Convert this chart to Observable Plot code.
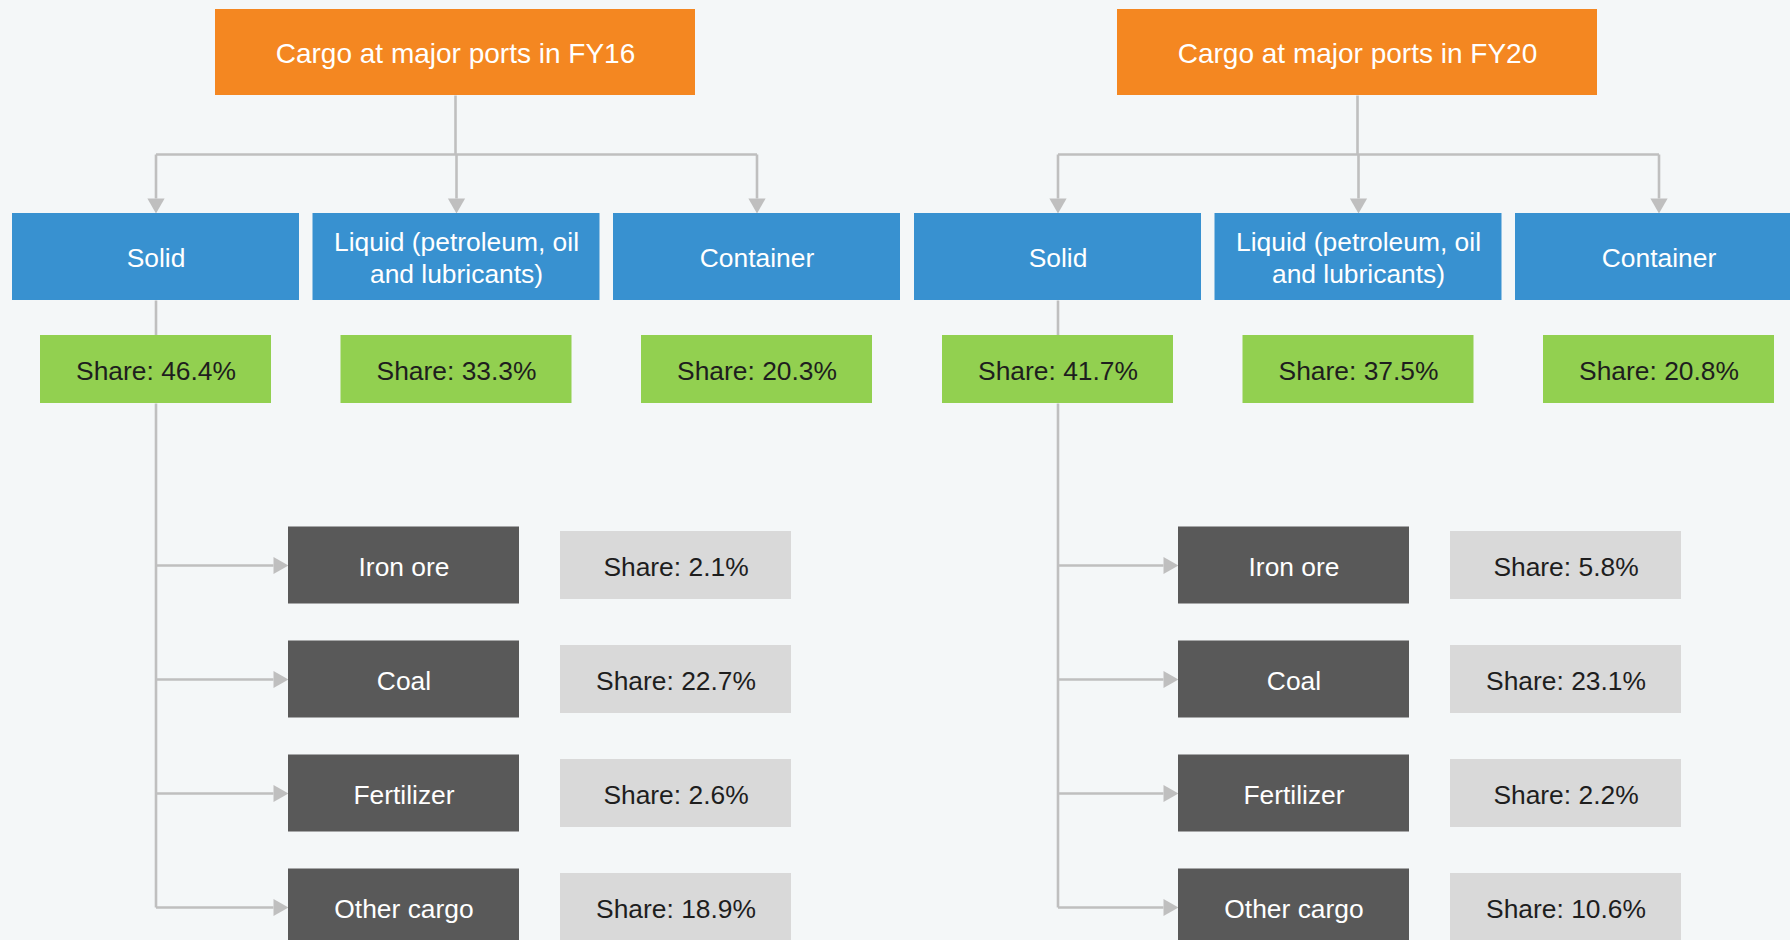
<!DOCTYPE html>
<html>
<head>
<meta charset="utf-8">
<script src="https://cdn.jsdelivr.net/npm/d3@7"></script>
<script src="https://cdn.jsdelivr.net/npm/@observablehq/plot@0.6"></script>
<style>
  html, body { margin: 0; padding: 0; background: #F4F7F8; }
  #chart { width: 1790px; height: 940px; overflow: hidden; }
</style>
</head>
<body>
<div id="chart"></div>
<script>
// ---------- data ----------
const years = ["FY16", "FY20"];
const titles = ["Cargo at major ports in FY16", "Cargo at major ports in FY20"];
const categories = ["Solid", "Liquid (petroleum, oil\nand lubricants)", "Container"];
const categoryShareFY16 = [46.4, 33.3, 20.3];
const categoryShareFY20 = [41.7, 37.5, 20.8];
const solidTypes = ["Iron ore", "Coal", "Fertilizer", "Other cargo"];
const solidShareFY16 = [2.1, 22.7, 2.6, 18.9];
const solidShareFY20 = [5.8, 23.1, 2.2, 10.6];

const categoryShares = [categoryShareFY16, categoryShareFY20];
const solidShares = [solidShareFY16, solidShareFY20];

// ---------- layout (diagram geometry) ----------
const W = 1790, H = 940;
const upperOffset = [0, 902];
const lowerOffset = [0, 890];
const L = {
  titleX1: 215, titleX2: 695, titleY1: 9, titleY2: 95,
  busY: 154,
  catX0: 12, catPitch: 300.5, catW: 287, catY1: 213, catY2: 300,
  shareW: 231, shareY1: 335, shareY2: 403,
  rowY0: 565, rowPitch: 114,
  subX1: 288, subX2: 519, subHalf: 38.5,
  valX1: 560, valX2: 791, valHalf: 34,
  arrowLen: 10, arrowBase: 15
};
const fmt = v => `Share: ${v.toFixed(1)}%`;

const rects = [], texts = [], links = [], heads = [];
years.forEach((yr, p) => {
  const ou = upperOffset[p], ol = lowerOffset[p];
  rects.push({x1: L.titleX1 + ou, x2: L.titleX2 + ou, y1: L.titleY1, y2: L.titleY2, kind: "title"});
  texts.push({x: (L.titleX1 + L.titleX2) / 2 + ou, y: (L.titleY1 + L.titleY2) / 2 + 2, text: titles[p], kind: "title"});
  const centers = categories.map((c, i) => L.catX0 + i * L.catPitch + L.catW / 2 + ou);
  links.push({x1: centers[0], y1: L.busY, x2: centers[2], y2: L.busY});
  const tx = (L.titleX1 + L.titleX2) / 2 + ou;
  links.push({x1: tx, y1: L.titleY2, x2: tx, y2: L.busY});
  categories.forEach((c, i) => {
    const cx = centers[i];
    links.push({x1: cx, y1: L.busY, x2: cx, y2: L.catY1 - L.arrowBase});
    heads.push({x: cx, y: L.catY1 - L.arrowLen, rot: 180});
    rects.push({x1: cx - L.catW / 2, x2: cx + L.catW / 2, y1: L.catY1, y2: L.catY2, kind: "cat"});
    texts.push({x: cx, y: (L.catY1 + L.catY2) / 2, text: c, kind: "cat"});
    rects.push({x1: cx - L.shareW / 2, x2: cx + L.shareW / 2, y1: L.shareY1, y2: L.shareY2, kind: "share"});
    texts.push({x: cx, y: (L.shareY1 + L.shareY2) / 2, text: fmt(categoryShares[p][i]), kind: "share"});
  });
  const sx = centers[0];
  const lastRow = L.rowY0 + (solidTypes.length - 1) * L.rowPitch;
  links.push({x1: sx, y1: L.catY2, x2: sx, y2: L.shareY1});
  links.push({x1: sx, y1: L.shareY2, x2: sx, y2: lastRow});
  solidTypes.forEach((t, j) => {
    const cy = L.rowY0 + j * L.rowPitch;
    links.push({x1: sx, y1: cy, x2: L.subX1 + ol - L.arrowBase, y2: cy});
    heads.push({x: L.subX1 + ol - L.arrowLen, y: cy, rot: 90});
    rects.push({x1: L.subX1 + ol, x2: L.subX2 + ol, y1: cy - L.subHalf, y2: cy + L.subHalf, kind: "sub"});
    texts.push({x: (L.subX1 + L.subX2) / 2 + ol, y: cy, text: t, kind: "sub"});
    rects.push({x1: L.valX1 + ol, x2: L.valX2 + ol, y1: cy - L.valHalf, y2: cy + L.valHalf, kind: "val"});
    texts.push({x: (L.valX1 + L.valX2) / 2 + ol, y: cy, text: fmt(solidShares[p][j]), kind: "val"});
  });
});

const fillOf = {title: "#F48721", cat: "#3891D0", share: "#92D050", sub: "#595959", val: "#D9D9D9"};
const textOf = {title: "#FFFFFF", cat: "#FFFFFF", share: "#1E1E1E", sub: "#FFFFFF", val: "#1E1E1E"};
const lineColor = "#BFBFBF";

const chart = Plot.plot({
  width: W, height: H,
  margin: 0,
  style: {background: "#F4F7F8", fontFamily: "'Liberation Sans', Arial, sans-serif"},
  x: {domain: [0, W], range: [0, W], axis: null},
  y: {domain: [0, H], range: [0, H], axis: null},
  marks: [
    Plot.link(links, {x1: "x1", y1: "y1", x2: "x2", y2: "y2", stroke: lineColor, strokeWidth: 2.6}),
    Plot.dot(heads, {x: "x", y: "y", symbol: "triangle", rotate: "rot", r: 6.4, fill: lineColor, stroke: "none"}),
    Plot.rect(rects, {x1: "x1", x2: "x2", y1: "y1", y2: "y2", fill: d => fillOf[d.kind], inset: 0}),
    Plot.text(texts.filter(d => d.kind === "title"), {x: "x", y: "y", text: "text", fill: "#FFFFFF", fontSize: 28, lineAnchor: "middle"}),
    Plot.text(texts.filter(d => d.kind !== "title"), {x: "x", y: "y", text: "text", fill: d => textOf[d.kind], fontSize: 26.4, lineAnchor: "middle", lineHeight: 1.22})
  ]
});
document.getElementById("chart").appendChild(chart);
</script>
</body>
</html>
